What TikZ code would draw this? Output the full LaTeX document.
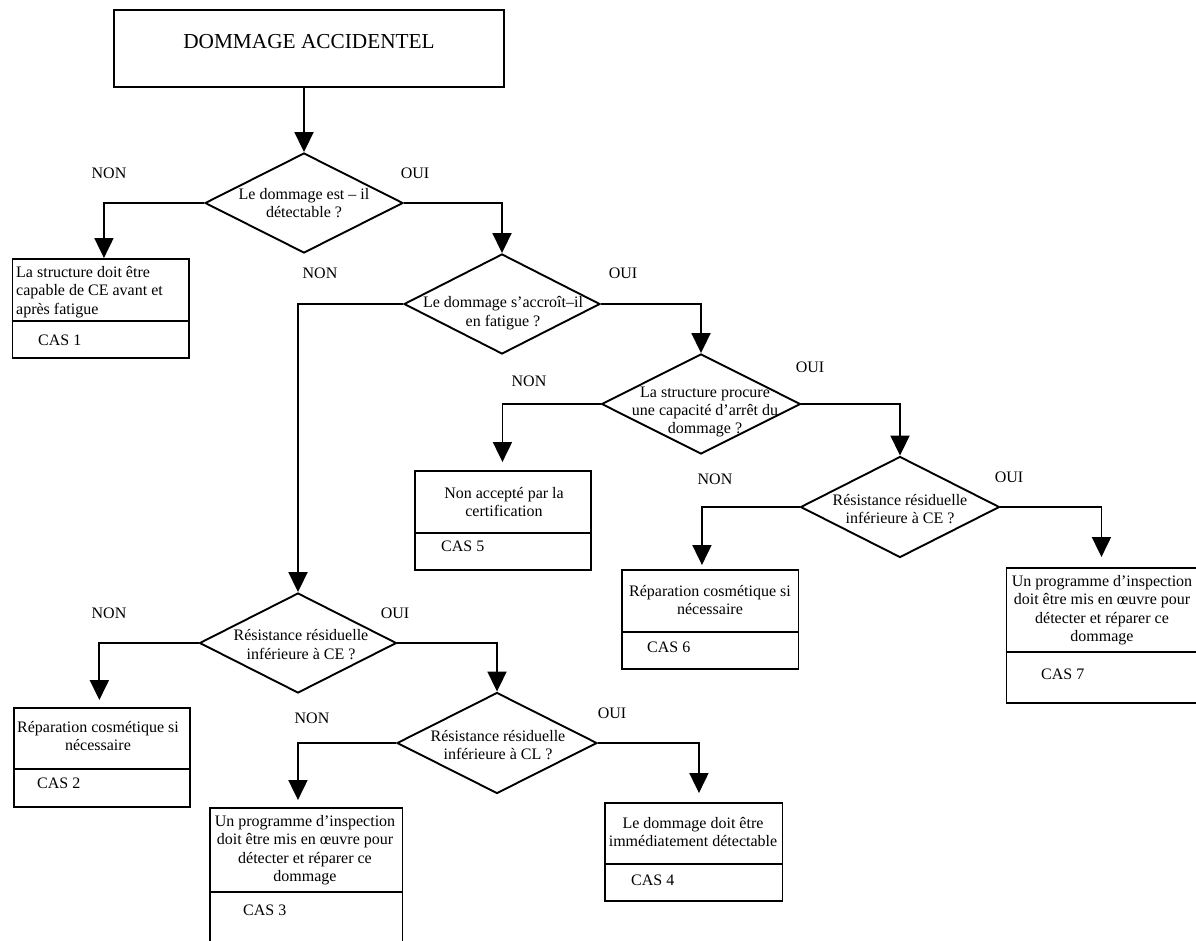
\documentclass[tikz,border=0pt]{standalone}
\usepackage{fontspec}
\setmainfont{Liberation Serif}
\usetikzlibrary{shapes.geometric,arrows.meta,calc}
\begin{document}
\begin{tikzpicture}[x=1pt,y=-1pt,
  lw/.style={line width=1.9pt},
  dia/.style={draw,diamond,lw,inner sep=0pt},
  box/.style={draw,rectangle,lw,inner sep=0pt,anchor=north west},
  txt/.style={font=\fontsize{16}{18.4}\selectfont,align=center,inner sep=0pt},
  cas/.style={font=\fontsize{16}{18.4}\selectfont,inner sep=0pt,anchor=west},
  conn/.style={lw,-{Triangle[width=19pt,length=20pt]}}]
\useasboundingbox (0,0) rectangle (1196,940);
\clip (0,0) rectangle (1196,940);

% title
\node[box,minimum width=390pt,minimum height=77pt] (T) at (113,9) {};
\node[txt,font=\fontsize{21.3}{24}\selectfont] (Tt) at (309,42) {DOMMAGE ACCIDENTEL};

% diamonds
\node[dia,minimum width=198pt,minimum height=100pt] (d1) at (304,203) {};
\node[txt] (d1t) at (304,203) {Le dommage est -- il\\détectable ?};
\node[dia,minimum width=196pt,minimum height=100pt] (d2) at (502,304) {};
\node[txt] (d2t) at (503,313) {Le dommage s’accroît--il\\en fatigue ?};
\node[dia,minimum width=197pt,minimum height=100pt] (d3) at (298,643) {};
\node[txt] (d3t) at (301,644.5) {Résistance résiduelle\\inférieure à CE ?};
\node[dia,minimum width=199pt,minimum height=100pt] (d4) at (701,404) {};
\node[txt] (d4t) at (705,412) {La structure procure\\une capacité d’arrêt du\\dommage ?};
\node[dia,minimum width=199pt,minimum height=101pt] (d5) at (900,507) {};
\node[txt] (d5t) at (900,509) {Résistance résiduelle\\inférieure à CE ?};
\node[dia,minimum width=200pt,minimum height=101pt] (d6) at (497,743) {};
\node[txt] (d6t) at (498,745) {Résistance résiduelle\\inférieure à CL ?};

% boxes
\node[box,minimum width=176.5pt,minimum height=99pt] (b1) at (11.5,258) {};
\draw[lw] ($(b1.north west)+(0,63)$) -- ($(b1.north east)+(0,63)$);
\node[txt,align=left,anchor=west] (b1t) at (16,292) {La structure doit être\\capable de CE avant et\\après fatigue};
\node[cas] (b1c) at (38,340) {CAS 1};

\node[box,minimum width=176pt,minimum height=99pt] (b2) at (13,707) {};
\draw[lw] ($(b2.north west)+(0,62)$) -- ($(b2.north east)+(0,62)$);
\node[txt] (b2t) at (98,736) {Réparation cosmétique si\\nécessaire};
\node[cas] (b2c) at (37,783) {CAS 2};

\node[box,minimum width=192.5pt,minimum height=145pt] (b3) at (209,807) {};
\draw[lw] ($(b3.north west)+(0,85)$) -- ($(b3.north east)+(0,85)$);
\node[txt] (b3t) at (305,850) {Un programme d’inspection\\doit être mis en œuvre pour\\détecter et réparer ce\\dommage};
\node[cas] (b3c) at (243,910) {CAS 3};

\node[box,minimum width=177.5pt,minimum height=98pt] (b4) at (604,802) {};
\draw[lw] ($(b4.north west)+(0,62)$) -- ($(b4.north east)+(0,62)$);
\node[txt] (b4t) at (693,832) {Le dommage doit être\\immédiatement détectable};
\node[cas] (b4c) at (631,880) {CAS 4};

\node[box,minimum width=176pt,minimum height=99pt] (b5) at (414,470) {};
\draw[lw] ($(b5.north west)+(0,63)$) -- ($(b5.north east)+(0,63)$);
\node[txt] (b5t) at (504,502) {Non accepté par la\\certification};
\node[cas] (b5c) at (441,546) {CAS 5};

\node[box,minimum width=176.5pt,minimum height=99pt] (b6) at (621,569) {};
\draw[lw] ($(b6.north west)+(0,63)$) -- ($(b6.north east)+(0,63)$);
\node[txt] (b6t) at (710,600) {Réparation cosmétique si\\nécessaire};
\node[cas] (b6c) at (647,647) {CAS 6};

\node[box,minimum width=191pt,minimum height=134.7pt] (b7) at (1005.5,567) {};
\draw[lw] ($(b7.north west)+(0,85)$) -- ($(b7.north east)+(0,85)$);
\node[txt] (b7t) at (1102,610) {Un programme d’inspection\\doit être mis en œuvre pour\\détecter et réparer ce\\dommage};
\node[cas] (b7c) at (1041,674) {CAS 7};

% labels
\node[txt] (l1n) at (109,173) {NON};
\node[txt] (l1o) at (415,173) {OUI};
\node[txt] (l2n) at (320,273) {NON};
\node[txt] (l2o) at (623,273) {OUI};
\node[txt] (l3n) at (109,613) {NON};
\node[txt] (l3o) at (395,613) {OUI};
\node[txt] (l4n) at (529,381) {NON};
\node[txt] (l4o) at (810,367) {OUI};
\node[txt] (l5n) at (715,479) {NON};
\node[txt] (l5o) at (1009,477) {OUI};
\node[txt] (l6n) at (312,718) {NON};
\node[txt] (l6o) at (612,713) {OUI};

% connectors
\draw[conn] (d1.north |- T.south) -- (d1.north);
\draw[conn] (d1.west) -| ([xshift=3.25pt]b1.north);
\draw[conn] (d1.east) -| (d2.north);
\draw[conn] (d2.west) -| (d3.north);
\draw[conn] (d2.east) -| (d4.north);
\draw[conn,shorten >=7pt] (d3.west) -| ([xshift=-2.6pt]b2.north);
\draw[conn] (d3.east) -| (d6.north);
\draw[conn,shorten >=7pt] (d6.west) -| ([xshift=-8.25pt]b3.north);
\draw[conn,shorten >=9pt] (d6.east) -| ([xshift=5.25pt]b4.north);
\draw[conn,shorten >=8pt] (d4.west) -| ([xshift=-0.5pt]b5.north);
\draw[conn] (d4.east) -| (d5.north);
\draw[conn,shorten >=4pt] (d5.west) -| ([xshift=-8.25pt]b6.north);
\draw[conn,shorten >=10pt] (d5.east) -| ([xshift=-0.5pt]b7.north);
\end{tikzpicture}
\end{document}
